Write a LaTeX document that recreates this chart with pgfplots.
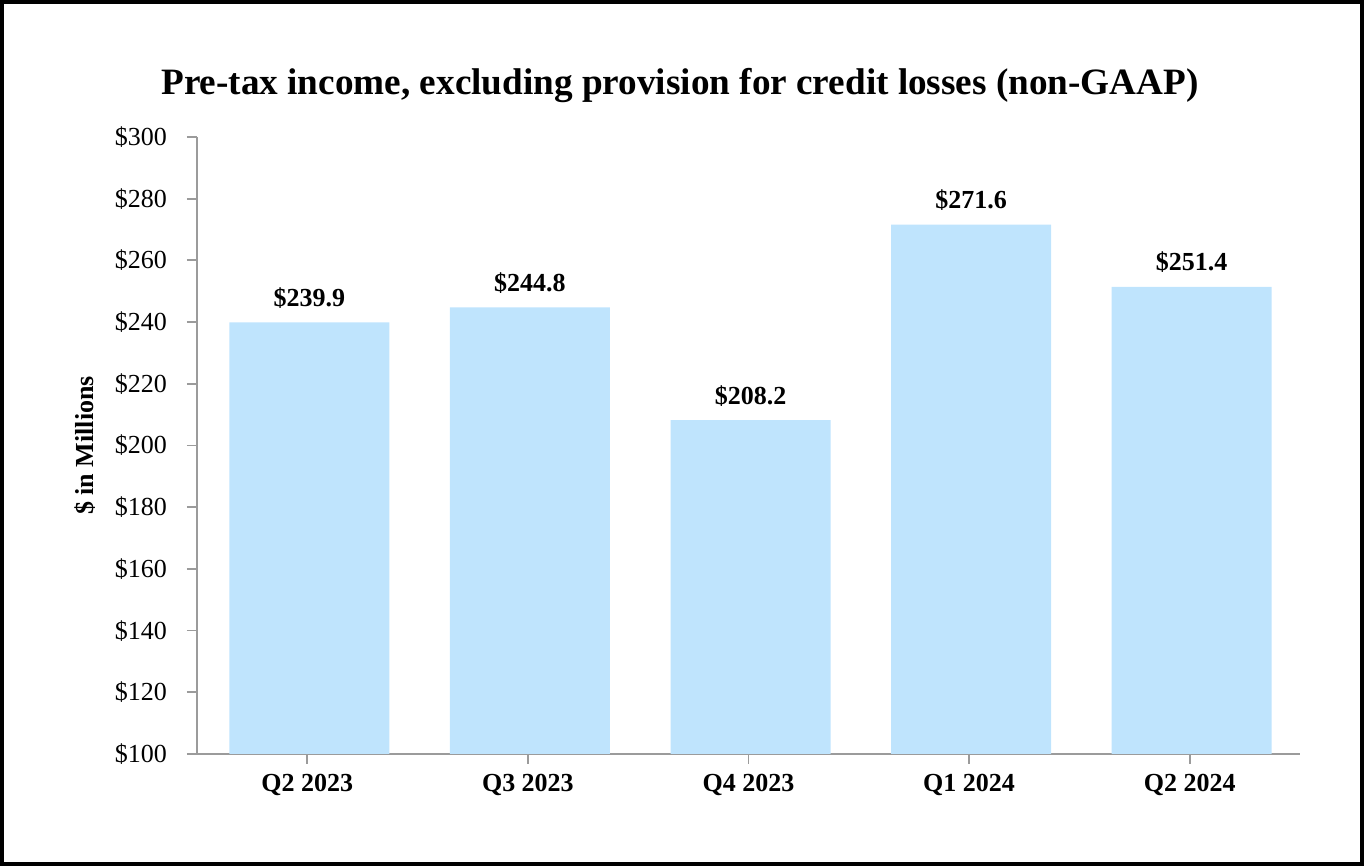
\documentclass[border=0pt]{standalone}
\usepackage{pgfplots}
\pgfplotsset{compat=1.18}
\usepackage{fontspec}
\setmainfont{Liberation Serif}

\definecolor{barblue}{RGB}{191,228,253}
\definecolor{axisgray}{RGB}{155,155,155}

\begin{document}
\begin{tikzpicture}
\begin{axis}[
    at={(0,0)}, anchor=south west,
    scale only axis,
    width=551.5pt, height=308.5pt,
    xmin=-0.5, xmax=4.5,
    ymin=100, ymax=300,
    ytick={100,120,...,300},
    xtick={0,1,2,3,4},
    xticklabels={Q2 2023,Q3 2023,Q4 2023,Q1 2024,Q2 2024},
    axis x line=bottom, axis y line=left,
    axis line style={axisgray, line width=0.9pt, -},
    tick style={axisgray, line width=0.9pt},
    major tick length=5pt,
    tick align=outside,
    /pgf/number format/assume math mode=true,
    yticklabel={\$\pgfmathprintnumber{\tick}},
    yticklabel style={font=\fontsize{13}{15}\selectfont, xshift=-6.5pt},
    xticklabel style={font=\fontsize{13}{15}\selectfont\bfseries, yshift=-1.5pt},
    every axis y label/.style={at={(axis description cs:0,0.5)}, xshift=-56pt,
        rotate=90, anchor=center, font=\fontsize{13}{15}\selectfont\bfseries},
    ylabel={\$ in Millions},
    ybar, bar width=80pt, bar shift=1pt,
    nodes near coords={\$\pgfmathprintnumber[fixed,fixed zerofill,precision=1]{\pgfplotspointmeta}},
    every node near coord/.append style={font=\fontsize{13}{15}\selectfont\bfseries, yshift=3.5pt},
]
\addplot[fill=barblue, draw=none] coordinates {
    (0,239.9) (1,244.8) (2,208.2) (3,271.6) (4,251.4)
};
\draw[axisgray, line width=0.9pt] ([xshift=-5pt]axis cs:-0.5,100) -- (axis cs:-0.5,100);
\end{axis}
\node[anchor=base, font=\fontsize{18.6}{22}\selectfont\bfseries] at (241.5pt,329.5pt)
    {Pre-tax income, excluding provision for credit losses (non-GAAP)};
\draw[line width=2pt] (-97.5pt,-55pt) rectangle (582.5pt,376pt);
\end{tikzpicture}
\end{document}
